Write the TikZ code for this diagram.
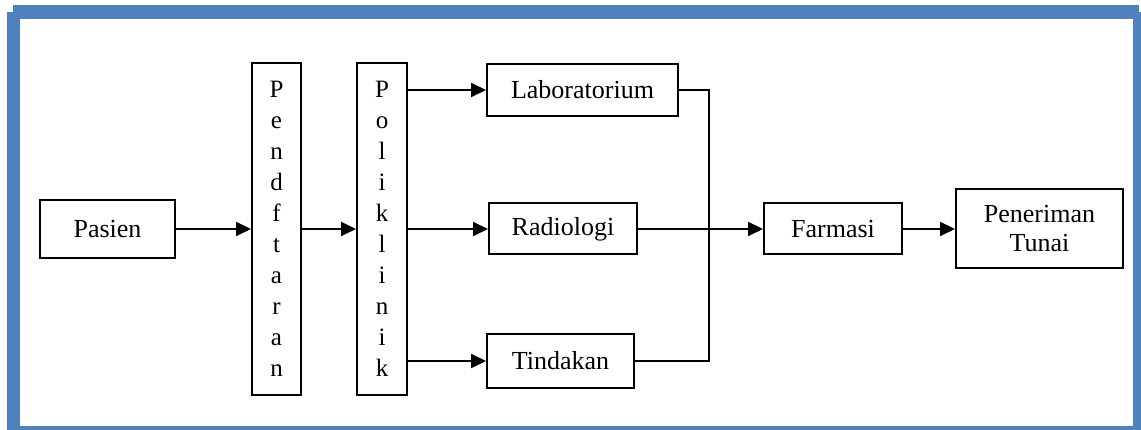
\documentclass[tikz,border=0pt]{standalone}
\usepackage{fontspec}
\setmainfont{Liberation Serif}
\usetikzlibrary{arrows.meta,positioning}
\definecolor{framecol}{RGB}{79,129,189}

\begin{document}
\begin{tikzpicture}[
		x=1pt, y=-1pt,
		>={Triangle[length=15pt,width=14pt]},
		every node/.style={font=\fontsize{26}{29}\selectfont},
		box/.style={draw, line width=2pt, align=center, inner sep=0pt},
		vbox/.style={draw, line width=2pt, align=center, inner sep=0pt, minimum width=49pt, minimum height=331pt, font=\fontsize{25}{31}\selectfont},
		link/.style={line width=2pt},
		flow/.style={->, line width=2pt}
		]
		
		\useasboundingbox (0,0) rectangle (1141,430);
		\fill[framecol] (13,5) rectangle (1139,19);
		\fill[framecol] (7,12) rectangle (20,430);
		\fill[framecol] (1133,12) rectangle (1141,430);
		\fill[framecol] (7,426) rectangle (1141,430);
		
		\node[box, minimum width=135pt, minimum height=58pt] (pasien) at (107.5,229) {Pasien};
		\node[vbox, right=75pt of pasien] (pend) {P\\e\\n\\d\\f\\t\\a\\r\\a\\n};
		\node[vbox, minimum width=50pt, minimum height=332pt, right=54pt of pend] (polik) {P\\o\\l\\i\\k\\l\\i\\n\\i\\k};
		\node[box, minimum width=148pt, minimum height=51pt, right=80pt of polik] (rad) {Radiologi};
		\node[box, minimum width=191pt, minimum height=52pt] (lab) at (582.5,90) {Laboratorium};
		\node[box, minimum width=147pt, minimum height=54pt] (tind) at (560.5,361) {Tindakan};
		\node[box, minimum width=138pt, minimum height=51pt, right=125pt of rad] (farm) {Farmasi};
		\node[box, minimum width=167pt, minimum height=79pt, right=52pt of farm] (terima) {Peneriman\\Tunai};
		\coordinate (jx) at (709,0);
		
		\draw[flow] (pasien) -- (pend);
		\draw[flow] (pend) -- (polik);
		\draw[flow] (polik.east |- lab) -- (lab);
		\draw[flow] (polik) -- (rad);
		\draw[flow] (polik.east |- tind) -- (tind);
		\draw[link] (lab.east) -- (lab.east -| jx) -- (tind.east -| jx) -- (tind.east);
		\draw[flow] (rad) -- (farm);
		\draw[flow] (farm) -- (terima);
		
	\end{tikzpicture}
\end{document}
